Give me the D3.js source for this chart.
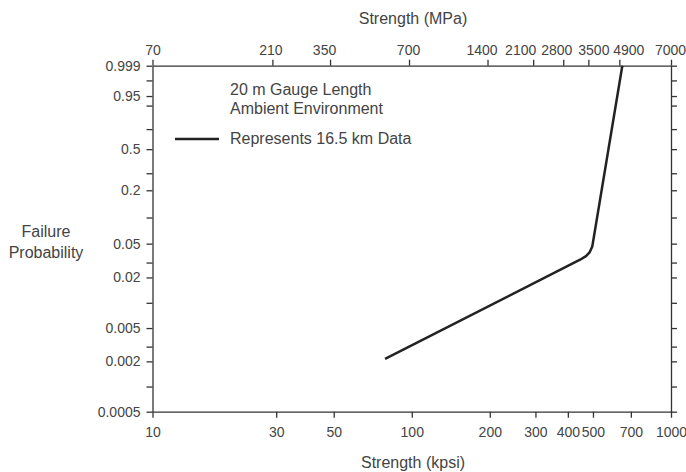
<!DOCTYPE html>
<html>
<head>
<meta charset="utf-8">
<script src="https://cdn.jsdelivr.net/npm/d3@7"></script>
<style>
  body { margin: 0; background: #fff; }
  svg text { font-family: "Liberation Sans", Arial, sans-serif; fill: #444; }
  .axis path, .axis line { stroke: #333; stroke-width: 1.3; }
</style>
</head>
<body>
<svg width="686" height="472"></svg>
<script>
// bottom axis (kpsi) ticks
const kpsiTicks = [10, 30, 50, 100, 200, 300, 400, 500, 700, 1000];
// top axis (MPa) ticks, and where each one sits on the kpsi scale in the original drawing
const mpaTicks = [70, 210, 350, 700, 1400, 2100, 2800, 3500, 4900, 7000];
const mpaTickAtKpsi = [10, 29, 48.4, 97.6, 196, 294, 384, 480, 632, 1000];

// failure probability ticks (Weibull scale)
const probTicks = [0.999, 0.99, 0.95, 0.9, 0.7, 0.5, 0.3, 0.2, 0.1, 0.05, 0.03, 0.02, 0.01, 0.005, 0.003, 0.002, 0.001, 0.0005];
const probLabels = [0.999, 0.95, 0.5, 0.2, 0.05, 0.02, 0.005, 0.002, 0.0005];

// the 16.5 km data curve
const strengthKpsi = [78.9, 446, 470, 485, 497, 649];
const failProb = [0.00214, 0.0324, 0.0357, 0.0394, 0.0463, 0.999];

const svg = d3.select('svg');

const plotL = 152.5, plotR = 671, plotT = 65.7, plotB = 411.7;

// weibull transform
const weib = p => Math.log(-Math.log(1 - p));

const x = d3.scaleLog().domain([10, 1000]).range([plotL, plotR]);
const xTop = d3.scaleLog().domain(mpaTicks).range(mpaTickAtKpsi.map(x));
const yW = d3.scaleLinear().domain([weib(0.0005), weib(0.999)]).range([plotB, plotT]);
const y = p => yW(weib(p));

const fmt = d => probLabels.includes(d) ? String(d) : '';

// top labels are nudged sideways in the original so they don't collide
const topLabelShift = [0, -2, -6, -1, -6, -13, -7, 5, 9, -1];

// axes
svg.append('g').attr('class', 'axis')
  .attr('transform', `translate(0, ${plotB})`)
  .call(d3.axisBottom(x).tickValues(kpsiTicks).tickFormat(d3.format('d')).tickSize(6).tickSizeOuter(0).tickPadding(9))
  .selectAll('text').style('font-size', '14px').attr('fill', '#444');

svg.append('g').attr('class', 'axis')
  .attr('transform', `translate(0, ${plotT})`)
  .call(d3.axisTop(xTop).tickValues(mpaTicks).tickFormat(d3.format('d')).tickSize(6).tickSizeOuter(0).tickPadding(5))
  .selectAll('text')
    .style('font-size', '14px').attr('fill', '#444')
    .attr('dx', (d, i) => topLabelShift[i]);

const yAxisL = d3.axisLeft(yW)
  .tickValues(probTicks.map(weib))
  .tickFormat((d, i) => fmt(probTicks[i]))
  .tickSize(6).tickSizeOuter(0).tickPadding(6);

svg.append('g').attr('class', 'axis')
  .attr('transform', `translate(${plotL}, 0)`)
  .call(yAxisL)
  .selectAll('text').style('font-size', '14px').attr('fill', '#444');

svg.append('g').attr('class', 'axis')
  .attr('transform', `translate(${plotR}, 0)`)
  .call(d3.axisRight(yW).tickValues(probTicks.map(weib)).tickFormat('').tickSize(6).tickSizeOuter(0));

svg.selectAll('.axis .domain').attr('stroke', '#333');
svg.selectAll('.axis .tick line').attr('stroke', '#333');

// axis titles
svg.append('text')
  .attr('x', 413).attr('y', 24)
  .attr('text-anchor', 'middle').style('font-size', '16px')
  .text('Strength (MPa)');

svg.append('text')
  .attr('x', 413).attr('y', 468)
  .attr('text-anchor', 'middle').style('font-size', '16px')
  .text('Strength (kpsi)');

svg.append('text')
  .attr('x', 46).attr('y', 237)
  .attr('text-anchor', 'middle').style('font-size', '16px')
  .text('Failure');
svg.append('text')
  .attr('x', 46).attr('y', 258)
  .attr('text-anchor', 'middle').style('font-size', '16px')
  .text('Probability');

// legend
const legend = svg.append('g');
legend.append('text').attr('x', 230).attr('y', 95).style('font-size', '16px').text('20 m Gauge Length');
legend.append('text').attr('x', 230).attr('y', 114).style('font-size', '16px').text('Ambient Environment');
legend.append('line')
  .attr('x1', 175).attr('x2', 219).attr('y1', 139).attr('y2', 139)
  .attr('stroke', '#222').attr('stroke-width', 2.5);
legend.append('text').attr('x', 230).attr('y', 144).style('font-size', '16px').text('Represents 16.5 km Data');

// data line
const pts = strengthKpsi.map((s, i) => [s, failProb[i]]);
const line = d3.line()
  .x(d => x(d[0]))
  .y(d => y(d[1]));

svg.append('path')
  .datum(pts)
  .attr('d', line)
  .attr('fill', 'none')
  .attr('stroke', '#222')
  .attr('stroke-width', 2.5)
  .attr('stroke-linejoin', 'round')
  .attr('stroke-linecap', 'butt');
</script>
</body>
</html>
